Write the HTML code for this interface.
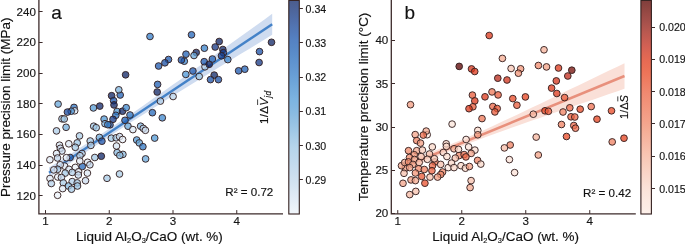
<!DOCTYPE html>
<html><head><meta charset="utf-8"><title>Figure</title>
<style>html,body{margin:0;padding:0;background:#fff}svg text{white-space:pre}</style></head>
<body>
<svg width="685" height="245" viewBox="0 0 685 245" style="display:block">
<rect width="685" height="245" fill="#fff"/>
<defs>
<linearGradient id="gb" gradientUnits="userSpaceOnUse" x1="0" y1="213.6" x2="0" y2="0.4">
<stop offset="0.0000" stop-color="#f1f6fb"/>
<stop offset="0.0312" stop-color="#ebf2f9"/>
<stop offset="0.0625" stop-color="#e4edf7"/>
<stop offset="0.0938" stop-color="#dee9f5"/>
<stop offset="0.1250" stop-color="#d7e5f2"/>
<stop offset="0.1562" stop-color="#d1e1f0"/>
<stop offset="0.1875" stop-color="#cbdeef"/>
<stop offset="0.2188" stop-color="#c6dcee"/>
<stop offset="0.2500" stop-color="#c0d9ed"/>
<stop offset="0.2812" stop-color="#bbd7ec"/>
<stop offset="0.3125" stop-color="#b5d5eb"/>
<stop offset="0.3438" stop-color="#add0e9"/>
<stop offset="0.3750" stop-color="#a4cbe7"/>
<stop offset="0.4062" stop-color="#9bc5e5"/>
<stop offset="0.4375" stop-color="#93c0e3"/>
<stop offset="0.4688" stop-color="#8abbe2"/>
<stop offset="0.5000" stop-color="#83b7e1"/>
<stop offset="0.5312" stop-color="#7db4e1"/>
<stop offset="0.5625" stop-color="#77aede"/>
<stop offset="0.5938" stop-color="#72a9db"/>
<stop offset="0.6250" stop-color="#6ca3d8"/>
<stop offset="0.6562" stop-color="#679dd5"/>
<stop offset="0.6875" stop-color="#6397d1"/>
<stop offset="0.7188" stop-color="#5e92ce"/>
<stop offset="0.7500" stop-color="#5a8cca"/>
<stop offset="0.7812" stop-color="#5787c6"/>
<stop offset="0.8125" stop-color="#5582c3"/>
<stop offset="0.8438" stop-color="#537bbb"/>
<stop offset="0.8750" stop-color="#5275b3"/>
<stop offset="0.9062" stop-color="#506eaa"/>
<stop offset="0.9375" stop-color="#4e68a0"/>
<stop offset="0.9688" stop-color="#4d6296"/>
<stop offset="1.0000" stop-color="#4b5c8c"/>
</linearGradient>
<linearGradient id="gr" gradientUnits="userSpaceOnUse" x1="0" y1="213.6" x2="0" y2="0.4">
<stop offset="0.0000" stop-color="#fdf0ea"/>
<stop offset="0.0312" stop-color="#fcece5"/>
<stop offset="0.0625" stop-color="#fce9e1"/>
<stop offset="0.0938" stop-color="#fbe5dc"/>
<stop offset="0.1250" stop-color="#fbe1d7"/>
<stop offset="0.1562" stop-color="#fadbcf"/>
<stop offset="0.1875" stop-color="#fad5c8"/>
<stop offset="0.2188" stop-color="#f9d0c0"/>
<stop offset="0.2500" stop-color="#f8cab9"/>
<stop offset="0.2812" stop-color="#f8c4b1"/>
<stop offset="0.3125" stop-color="#f7bda9"/>
<stop offset="0.3438" stop-color="#f6b6a1"/>
<stop offset="0.3750" stop-color="#f5b099"/>
<stop offset="0.4062" stop-color="#f4a991"/>
<stop offset="0.4375" stop-color="#f4a28a"/>
<stop offset="0.4688" stop-color="#f39c84"/>
<stop offset="0.5000" stop-color="#f2967d"/>
<stop offset="0.5312" stop-color="#f19077"/>
<stop offset="0.5625" stop-color="#f08a71"/>
<stop offset="0.5938" stop-color="#ef8369"/>
<stop offset="0.6250" stop-color="#ee7c61"/>
<stop offset="0.6562" stop-color="#ed7559"/>
<stop offset="0.6875" stop-color="#ea6f55"/>
<stop offset="0.7188" stop-color="#e66a53"/>
<stop offset="0.7500" stop-color="#dd6653"/>
<stop offset="0.7812" stop-color="#d46154"/>
<stop offset="0.8125" stop-color="#c85d52"/>
<stop offset="0.8438" stop-color="#bc5950"/>
<stop offset="0.8750" stop-color="#af554e"/>
<stop offset="0.9062" stop-color="#a34f4a"/>
<stop offset="0.9375" stop-color="#984a45"/>
<stop offset="0.9688" stop-color="#8c4440"/>
<stop offset="1.0000" stop-color="#803e3c"/>
</linearGradient>
</defs>
<polygon points="49.0,167.6 56.7,162.8 64.4,157.9 72.1,153.0 79.8,148.1 87.5,143.1 95.2,138.1 102.9,133.0 110.6,127.8 118.3,122.7 126.0,117.4 133.7,112.2 141.4,106.9 149.1,101.5 156.8,96.1 164.4,90.7 172.1,85.3 179.8,79.9 187.5,74.4 195.2,68.9 202.9,63.5 210.6,58.0 218.3,52.5 226.0,47.0 233.7,41.5 241.4,35.9 249.1,30.4 256.8,24.9 264.5,19.4 272.2,13.8 272.2,34.8 264.5,39.5 256.8,44.2 249.1,48.9 241.4,53.6 233.7,58.3 226.0,63.0 218.3,67.8 210.6,72.5 202.9,77.2 195.2,82.0 187.5,86.8 179.8,91.5 172.1,96.3 164.4,101.1 156.8,106.0 149.1,110.8 141.4,115.7 133.7,120.6 126.0,125.6 118.3,130.6 110.6,135.7 102.9,140.8 95.2,145.9 87.5,151.1 79.8,156.4 72.1,161.7 64.4,167.0 56.7,172.4 49.0,177.8" fill="#cfdcf0"/>
<line x1="49" y1="172.7" x2="272.2" y2="24.3" stroke="#4482c8" stroke-width="2.5"/>
<g stroke="#33201f" stroke-width="1" stroke-opacity="0.92" fill-opacity="0.75">
<circle cx="58.1" cy="104.1" r="3.35" fill="#67a7d9"/>
<circle cx="74.0" cy="107.4" r="3.35" fill="#2e74c2"/>
<circle cx="74.7" cy="110.8" r="3.35" fill="#dbe8f4"/>
<circle cx="71.2" cy="111.2" r="3.35" fill="#4b94d4"/>
<circle cx="67.4" cy="112.1" r="3.35" fill="#194a9d"/>
<circle cx="62.0" cy="118.8" r="3.35" fill="#9fc7e5"/>
<circle cx="64.2" cy="119.0" r="3.35" fill="#9fc7e5"/>
<circle cx="93.4" cy="107.9" r="3.35" fill="#549cd7"/>
<circle cx="99.8" cy="106.1" r="3.35" fill="#10286a"/>
<circle cx="111.6" cy="95.7" r="3.35" fill="#0f2666"/>
<circle cx="113.6" cy="100.7" r="3.35" fill="#1c58af"/>
<circle cx="114.0" cy="104.9" r="3.35" fill="#0f2666"/>
<circle cx="120.2" cy="95.0" r="3.35" fill="#2061b5"/>
<circle cx="118.8" cy="89.8" r="3.35" fill="#7eb4dd"/>
<circle cx="117.1" cy="111.5" r="3.35" fill="#5099d6"/>
<circle cx="122.5" cy="111.2" r="3.35" fill="#0f2666"/>
<circle cx="115.8" cy="115.3" r="3.35" fill="#2e74c2"/>
<circle cx="113.0" cy="119.3" r="3.35" fill="#143885"/>
<circle cx="104.1" cy="119.1" r="3.35" fill="#5099d6"/>
<circle cx="105.0" cy="123.7" r="3.35" fill="#7db3dd"/>
<circle cx="93.7" cy="126.2" r="3.35" fill="#9dc7e5"/>
<circle cx="96.2" cy="127.7" r="3.35" fill="#9dc7e5"/>
<circle cx="110.0" cy="124.8" r="3.35" fill="#1a50a5"/>
<circle cx="107.8" cy="124.7" r="3.35" fill="#3c85cc"/>
<circle cx="173.1" cy="96.5" r="3.35" fill="#b9d3ea"/>
<circle cx="160.4" cy="101.1" r="3.35" fill="#b1cfe8"/>
<circle cx="152.4" cy="112.7" r="3.35" fill="#2569ba"/>
<circle cx="162.3" cy="117.8" r="3.35" fill="#3e87cd"/>
<circle cx="126.2" cy="107.7" r="3.35" fill="#3f88ce"/>
<circle cx="130.0" cy="115.0" r="3.35" fill="#2e74c2"/>
<circle cx="125.0" cy="120.3" r="3.35" fill="#2061b5"/>
<circle cx="128.0" cy="126.2" r="3.35" fill="#68a7d9"/>
<circle cx="140.6" cy="126.2" r="3.35" fill="#7db3dd"/>
<circle cx="157.2" cy="92.0" r="3.35" fill="#0f2666"/>
<circle cx="66.1" cy="127.3" r="3.35" fill="#73aedb"/>
<circle cx="56.5" cy="130.9" r="3.35" fill="#adcde8"/>
<circle cx="79.5" cy="135.9" r="3.35" fill="#abcde7"/>
<circle cx="99.4" cy="137.4" r="3.35" fill="#7ab2dc"/>
<circle cx="101.9" cy="141.2" r="3.35" fill="#1b53a8"/>
<circle cx="90.2" cy="141.0" r="3.35" fill="#a6cae6"/>
<circle cx="90.9" cy="145.4" r="3.35" fill="#b2cfe8"/>
<circle cx="77.2" cy="142.9" r="3.35" fill="#9ec7e5"/>
<circle cx="75.3" cy="147.3" r="3.35" fill="#a7cbe6"/>
<circle cx="68.8" cy="143.8" r="3.35" fill="#deeaf5"/>
<circle cx="59.5" cy="145.2" r="3.35" fill="#d7e5f3"/>
<circle cx="60.4" cy="148.3" r="3.35" fill="#c9dbee"/>
<circle cx="61.9" cy="151.0" r="3.35" fill="#c9dbee"/>
<circle cx="111.4" cy="138.2" r="3.35" fill="#9dc7e5"/>
<circle cx="116.2" cy="137.8" r="3.35" fill="#a8cbe7"/>
<circle cx="119.6" cy="136.6" r="3.35" fill="#c9dbee"/>
<circle cx="122.6" cy="139.5" r="3.35" fill="#e8f0f8"/>
<circle cx="116.5" cy="146.0" r="3.35" fill="#d7e5f3"/>
<circle cx="117.1" cy="152.6" r="3.35" fill="#88bae0"/>
<circle cx="122.9" cy="154.4" r="3.35" fill="#89bbe0"/>
<circle cx="119.8" cy="155.4" r="3.35" fill="#8bbce0"/>
<circle cx="82.0" cy="153.5" r="3.35" fill="#b3d0e9"/>
<circle cx="56.6" cy="153.5" r="3.35" fill="#dce8f4"/>
<circle cx="57.5" cy="158.0" r="3.35" fill="#c1d6eb"/>
<circle cx="49.9" cy="159.8" r="3.35" fill="#e1ebf6"/>
<circle cx="70.1" cy="157.5" r="3.35" fill="#1f5eb3"/>
<circle cx="66.4" cy="157.7" r="3.35" fill="#e9f1f9"/>
<circle cx="80.0" cy="155.7" r="3.35" fill="#b3d0e9"/>
<circle cx="94.8" cy="157.5" r="3.35" fill="#a6cae6"/>
<circle cx="101.3" cy="156.2" r="3.35" fill="#0f2768"/>
<circle cx="87.6" cy="162.3" r="3.35" fill="#e1ebf6"/>
<circle cx="89.9" cy="164.8" r="3.35" fill="#c1d6eb"/>
<circle cx="82.3" cy="166.5" r="3.35" fill="#2365b8"/>
<circle cx="79.8" cy="161.0" r="3.35" fill="#e1ebf6"/>
<circle cx="75.3" cy="167.4" r="3.35" fill="#ecf3fa"/>
<circle cx="64.6" cy="166.1" r="3.35" fill="#e9f1f9"/>
<circle cx="60.2" cy="164.8" r="3.35" fill="#e1ebf6"/>
<circle cx="57.6" cy="169.3" r="3.35" fill="#aacce7"/>
<circle cx="53.8" cy="169.9" r="3.35" fill="#e1ebf6"/>
<circle cx="69.0" cy="169.3" r="3.35" fill="#dce8f4"/>
<circle cx="72.2" cy="172.4" r="3.35" fill="#b3d0e9"/>
<circle cx="65.2" cy="173.1" r="3.35" fill="#a6cae6"/>
<circle cx="78.5" cy="171.8" r="3.35" fill="#e1ebf6"/>
<circle cx="78.3" cy="175.0" r="3.35" fill="#c2d7ec"/>
<circle cx="87.4" cy="173.1" r="3.35" fill="#dce8f4"/>
<circle cx="50.0" cy="178.5" r="3.35" fill="#e1ebf6"/>
<circle cx="57.8" cy="177.0" r="3.35" fill="#e9f1f9"/>
<circle cx="61.4" cy="177.5" r="3.35" fill="#c1d6eb"/>
<circle cx="107.0" cy="178.3" r="3.35" fill="#a6cae6"/>
<circle cx="119.5" cy="174.0" r="3.35" fill="#abcde7"/>
<circle cx="85.5" cy="180.7" r="3.35" fill="#c9dbee"/>
<circle cx="72.2" cy="181.6" r="3.35" fill="#afcee8"/>
<circle cx="57.6" cy="195.3" r="3.35" fill="#ecf3fa"/>
<circle cx="51.3" cy="183.5" r="3.35" fill="#b7d2e9"/>
<circle cx="63.3" cy="182.9" r="3.35" fill="#a7cbe6"/>
<circle cx="62.7" cy="188.6" r="3.35" fill="#e0ebf5"/>
<circle cx="68.4" cy="186.0" r="3.35" fill="#85b9df"/>
<circle cx="71.5" cy="189.2" r="3.35" fill="#a4c9e6"/>
<circle cx="77.2" cy="182.9" r="3.35" fill="#a6cae6"/>
<circle cx="77.5" cy="186.0" r="3.35" fill="#9dc7e5"/>
<circle cx="132.9" cy="129.6" r="3.35" fill="#dbe8f4"/>
<circle cx="143.3" cy="128.4" r="3.35" fill="#b9d3ea"/>
<circle cx="145.4" cy="130.3" r="3.35" fill="#cddeef"/>
<circle cx="154.7" cy="138.1" r="3.35" fill="#5099d6"/>
<circle cx="136.7" cy="140.0" r="3.35" fill="#5099d6"/>
<circle cx="139.3" cy="142.9" r="3.35" fill="#67a7d9"/>
<circle cx="142.9" cy="146.7" r="3.35" fill="#3077c3"/>
<circle cx="145.6" cy="158.9" r="3.35" fill="#68a7d9"/>
<circle cx="150.0" cy="36.5" r="3.35" fill="#367fc9"/>
<circle cx="191.5" cy="34.8" r="3.35" fill="#2365b8"/>
<circle cx="219.2" cy="41.5" r="3.35" fill="#0f2666"/>
<circle cx="215.2" cy="47.0" r="3.35" fill="#143682"/>
<circle cx="204.4" cy="48.2" r="3.35" fill="#3882ca"/>
<circle cx="222.8" cy="49.5" r="3.35" fill="#10286a"/>
<circle cx="223.4" cy="52.7" r="3.35" fill="#163e8e"/>
<circle cx="221.5" cy="55.8" r="3.35" fill="#153d8c"/>
<circle cx="271.5" cy="42.3" r="3.35" fill="#0f2666"/>
<circle cx="259.5" cy="51.6" r="3.35" fill="#1a50a5"/>
<circle cx="196.2" cy="52.5" r="3.35" fill="#0f2666"/>
<circle cx="194.0" cy="55.5" r="3.35" fill="#69a8d9"/>
<circle cx="186.0" cy="54.2" r="3.35" fill="#2061b5"/>
<circle cx="184.3" cy="61.2" r="3.35" fill="#3c85cc"/>
<circle cx="181.4" cy="60.0" r="3.35" fill="#1a4fa3"/>
<circle cx="168.5" cy="59.5" r="3.35" fill="#1c58af"/>
<circle cx="164.9" cy="62.8" r="3.35" fill="#1a4fa3"/>
<circle cx="158.6" cy="66.0" r="3.35" fill="#1d59af"/>
<circle cx="205.0" cy="66.8" r="3.35" fill="#b9d3ea"/>
<circle cx="204.2" cy="61.7" r="3.35" fill="#1c58af"/>
<circle cx="209.2" cy="64.3" r="3.35" fill="#0f2666"/>
<circle cx="212.4" cy="59.0" r="3.35" fill="#2061b5"/>
<circle cx="227.8" cy="59.6" r="3.35" fill="#3c85cc"/>
<circle cx="259.1" cy="62.5" r="3.35" fill="#143885"/>
<circle cx="238.6" cy="70.8" r="3.35" fill="#1c58af"/>
<circle cx="244.8" cy="69.2" r="3.35" fill="#2061b5"/>
<circle cx="185.8" cy="74.4" r="3.35" fill="#4d97d5"/>
<circle cx="192.9" cy="71.0" r="3.35" fill="#1c58af"/>
<circle cx="199.2" cy="76.5" r="3.35" fill="#9cc6e4"/>
<circle cx="214.2" cy="75.1" r="3.35" fill="#10296b"/>
<circle cx="210.5" cy="79.6" r="3.35" fill="#1a50a5"/>
<circle cx="218.4" cy="79.6" r="3.35" fill="#1b51a6"/>
<circle cx="157.6" cy="84.4" r="3.35" fill="#2060b4"/>
<circle cx="125.6" cy="74.8" r="3.35" fill="#0f2666"/>
</g>
<g stroke="#3c2b2b" stroke-width="1.3" fill="none">
<path d="M38.9 0V213.8H283"/>
</g>
<g stroke="#3c2b2b" stroke-width="1">
<line x1="45.50" y1="213.8" x2="45.50" y2="210.1"/>
<line x1="109.25" y1="213.8" x2="109.25" y2="210.1"/>
<line x1="173.00" y1="213.8" x2="173.00" y2="210.1"/>
<line x1="236.75" y1="213.8" x2="236.75" y2="210.1"/>
<line x1="38.9" y1="195.5" x2="42.6" y2="195.5"/>
<line x1="38.9" y1="165.5" x2="42.6" y2="165.5"/>
<line x1="38.9" y1="134.5" x2="42.6" y2="134.5"/>
<line x1="38.9" y1="103.5" x2="42.6" y2="103.5"/>
<line x1="38.9" y1="73.5" x2="42.6" y2="73.5"/>
<line x1="38.9" y1="42.5" x2="42.6" y2="42.5"/>
<line x1="38.9" y1="11.5" x2="42.6" y2="11.5"/>
</g>
<g font-family="Liberation Sans, Arial, sans-serif" font-size="11.6" fill="#151515" stroke="#151515" stroke-width="0.15">
<text x="45.50" y="225.4" text-anchor="middle">1</text>
<text x="109.25" y="225.4" text-anchor="middle">2</text>
<text x="173.00" y="225.4" text-anchor="middle">3</text>
<text x="236.75" y="225.4" text-anchor="middle">4</text>
<text x="35.9" y="199.85" text-anchor="end">120</text>
<text x="35.9" y="169.13" text-anchor="end">140</text>
<text x="35.9" y="138.41" text-anchor="end">160</text>
<text x="35.9" y="107.69" text-anchor="end">180</text>
<text x="35.9" y="76.97" text-anchor="end">200</text>
<text x="35.9" y="46.25" text-anchor="end">220</text>
<text x="35.9" y="15.53" text-anchor="end">240</text>
</g>
<rect x="288.8" y="0.4" width="10.5" height="213.6" fill="url(#gb)" stroke="#33201f" stroke-width="1.1"/>
<g stroke="#3c2b2b" stroke-width="1">
<line x1="299.3" y1="8.5" x2="302.90000000000003" y2="8.5"/>
<line x1="299.3" y1="42.5" x2="302.90000000000003" y2="42.5"/>
<line x1="299.3" y1="77.5" x2="302.90000000000003" y2="77.5"/>
<line x1="299.3" y1="111.5" x2="302.90000000000003" y2="111.5"/>
<line x1="299.3" y1="145.5" x2="302.90000000000003" y2="145.5"/>
<line x1="299.3" y1="179.5" x2="302.90000000000003" y2="179.5"/>
</g>
<g font-family="Liberation Sans, Arial, sans-serif" font-size="10.6" fill="#151515" stroke="#151515" stroke-width="0.15">
<text x="305.6" y="12.60">0.34</text>
<text x="305.6" y="46.86">0.33</text>
<text x="305.6" y="81.12">0.32</text>
<text x="305.6" y="115.38">0.31</text>
<text x="305.6" y="149.64">0.30</text>
<text x="305.6" y="183.90">0.29</text>
</g>
<polygon points="401.0,162.9 408.7,160.2 416.4,157.4 424.1,154.6 431.8,151.7 439.5,148.7 447.2,145.7 454.9,142.6 462.7,139.4 470.4,136.1 478.1,132.7 485.8,129.2 493.5,125.7 501.2,122.1 508.9,118.5 516.6,114.9 524.3,111.2 532.0,107.6 539.7,103.9 547.4,100.2 555.1,96.5 562.8,92.8 570.6,89.1 578.3,85.4 586.0,81.7 593.7,78.0 601.4,74.3 609.1,70.6 616.8,66.9 624.5,63.2 624.5,88.8 616.8,91.5 609.1,94.1 601.4,96.7 593.7,99.4 586.0,102.0 578.3,104.6 570.6,107.3 562.8,109.9 555.1,112.6 547.4,115.2 539.7,117.9 532.0,120.6 524.3,123.3 516.6,126.0 508.9,128.7 501.2,131.4 493.5,134.2 485.8,137.0 478.1,139.9 470.4,142.8 462.7,145.9 454.9,149.0 447.2,152.2 439.5,155.5 431.8,158.9 424.1,162.4 416.4,165.9 408.7,169.5 401.0,173.1" fill="#fae0d8"/>
<line x1="401" y1="168" x2="624.5" y2="76" stroke="#e8907c" stroke-width="2.5"/>
<g stroke="#33201f" stroke-width="1" stroke-opacity="0.92" fill-opacity="0.75">
<circle cx="489.2" cy="35.5" r="3.35" fill="#dc371a"/>
<circle cx="544.0" cy="49.8" r="3.35" fill="#f5b199"/>
<circle cx="502.4" cy="58.4" r="3.35" fill="#f5ac92"/>
<circle cx="459.2" cy="66.4" r="3.35" fill="#590000"/>
<circle cx="471.5" cy="68.9" r="3.35" fill="#d3331a"/>
<circle cx="474.7" cy="71.5" r="3.35" fill="#dc371a"/>
<circle cx="511.1" cy="68.5" r="3.35" fill="#f8c7b5"/>
<circle cx="520.6" cy="68.8" r="3.35" fill="#f29578"/>
<circle cx="518.4" cy="73.2" r="3.35" fill="#f29477"/>
<circle cx="538.4" cy="65.5" r="3.35" fill="#f18a6b"/>
<circle cx="546.5" cy="66.9" r="3.35" fill="#f3a186"/>
<circle cx="558.5" cy="68.0" r="3.35" fill="#dc371a"/>
<circle cx="571.8" cy="70.2" r="3.35" fill="#760e07"/>
<circle cx="567.8" cy="76.0" r="3.35" fill="#c22b1b"/>
<circle cx="497.8" cy="78.2" r="3.35" fill="#b82819"/>
<circle cx="507.0" cy="80.0" r="3.35" fill="#d2321a"/>
<circle cx="556.3" cy="80.9" r="3.35" fill="#d3331a"/>
<circle cx="551.6" cy="88.1" r="3.35" fill="#dc371a"/>
<circle cx="556.8" cy="93.5" r="3.35" fill="#dc371a"/>
<circle cx="564.6" cy="97.6" r="3.35" fill="#ea5b39"/>
<circle cx="525.4" cy="96.9" r="3.35" fill="#e6421d"/>
<circle cx="512.8" cy="98.6" r="3.35" fill="#e84824"/>
<circle cx="516.9" cy="105.2" r="3.35" fill="#ea5b39"/>
<circle cx="492.0" cy="91.9" r="3.35" fill="#ee7756"/>
<circle cx="498.1" cy="94.9" r="3.35" fill="#ea5b39"/>
<circle cx="485.0" cy="96.8" r="3.35" fill="#dc371a"/>
<circle cx="472.4" cy="95.1" r="3.35" fill="#ea5b39"/>
<circle cx="474.8" cy="100.9" r="3.35" fill="#dc371a"/>
<circle cx="472.9" cy="106.8" r="3.35" fill="#ea5b39"/>
<circle cx="469.0" cy="108.7" r="3.35" fill="#db371a"/>
<circle cx="492.8" cy="106.5" r="3.35" fill="#ec6645"/>
<circle cx="497.2" cy="108.5" r="3.35" fill="#e9522f"/>
<circle cx="494.9" cy="111.9" r="3.35" fill="#ea5b39"/>
<circle cx="410.5" cy="104.7" r="3.35" fill="#f39c80"/>
<circle cx="482.0" cy="118.6" r="3.35" fill="#ee7756"/>
<circle cx="533.3" cy="114.2" r="3.35" fill="#f7bca7"/>
<circle cx="545.0" cy="110.8" r="3.35" fill="#e6421d"/>
<circle cx="548.4" cy="111.3" r="3.35" fill="#eb5e3d"/>
<circle cx="563.0" cy="112.0" r="3.35" fill="#ef8060"/>
<circle cx="569.8" cy="107.8" r="3.35" fill="#ec6645"/>
<circle cx="580.2" cy="109.2" r="3.35" fill="#e84824"/>
<circle cx="591.2" cy="106.6" r="3.35" fill="#ed7050"/>
<circle cx="611.5" cy="110.8" r="3.35" fill="#e84824"/>
<circle cx="597.0" cy="119.2" r="3.35" fill="#e6421d"/>
<circle cx="571.0" cy="116.8" r="3.35" fill="#ea5b39"/>
<circle cx="574.8" cy="117.0" r="3.35" fill="#ec6645"/>
<circle cx="561.5" cy="124.5" r="3.35" fill="#ef8060"/>
<circle cx="573.8" cy="125.5" r="3.35" fill="#ec6645"/>
<circle cx="575.5" cy="128.2" r="3.35" fill="#ed7050"/>
<circle cx="566.5" cy="136.5" r="3.35" fill="#e84824"/>
<circle cx="536.2" cy="137.1" r="3.35" fill="#f6b59d"/>
<circle cx="510.2" cy="145.0" r="3.35" fill="#ef8060"/>
<circle cx="504.4" cy="147.9" r="3.35" fill="#f7bca7"/>
<circle cx="612.2" cy="141.9" r="3.35" fill="#ef8060"/>
<circle cx="624.0" cy="138.2" r="3.35" fill="#e6421d"/>
<circle cx="452.1" cy="124.1" r="3.35" fill="#fbe5db"/>
<circle cx="538.3" cy="155.0" r="3.35" fill="#f3a186"/>
<circle cx="509.4" cy="159.6" r="3.35" fill="#fbe1d7"/>
<circle cx="514.6" cy="172.6" r="3.35" fill="#fbe1d7"/>
<circle cx="427.2" cy="134.7" r="3.35" fill="#fce5dc"/>
<circle cx="415.2" cy="134.6" r="3.35" fill="#f4a489"/>
<circle cx="426.2" cy="131.1" r="3.35" fill="#f4a98f"/>
<circle cx="423.3" cy="135.1" r="3.35" fill="#ed6b4a"/>
<circle cx="416.7" cy="140.6" r="3.35" fill="#ef8161"/>
<circle cx="420.5" cy="143.1" r="3.35" fill="#f39e82"/>
<circle cx="432.3" cy="146.9" r="3.35" fill="#fad8ca"/>
<circle cx="408.5" cy="150.7" r="3.35" fill="#f18a6a"/>
<circle cx="416.7" cy="150.7" r="3.35" fill="#f4a98f"/>
<circle cx="422.4" cy="150.1" r="3.35" fill="#f8cbba"/>
<circle cx="414.2" cy="154.7" r="3.35" fill="#f29476"/>
<circle cx="429.5" cy="154.0" r="3.35" fill="#f7c1ad"/>
<circle cx="421.1" cy="156.6" r="3.35" fill="#f7c1ad"/>
<circle cx="409.5" cy="157.5" r="3.35" fill="#f18a6a"/>
<circle cx="446.2" cy="143.8" r="3.35" fill="#fad8ca"/>
<circle cx="446.4" cy="146.4" r="3.35" fill="#fad8ca"/>
<circle cx="443.3" cy="152.5" r="3.35" fill="#fadacd"/>
<circle cx="446.9" cy="156.5" r="3.35" fill="#fbdfd3"/>
<circle cx="454.0" cy="148.8" r="3.35" fill="#f4a98f"/>
<circle cx="458.5" cy="149.4" r="3.35" fill="#fad8ca"/>
<circle cx="466.1" cy="139.5" r="3.35" fill="#fce5dc"/>
<circle cx="468.6" cy="146.9" r="3.35" fill="#fbe2d8"/>
<circle cx="474.9" cy="150.1" r="3.35" fill="#faded2"/>
<circle cx="471.2" cy="153.4" r="3.35" fill="#f4a489"/>
<circle cx="459.1" cy="155.6" r="3.35" fill="#f18a6a"/>
<circle cx="464.1" cy="154.6" r="3.35" fill="#ed7251"/>
<circle cx="465.9" cy="156.9" r="3.35" fill="#ec6847"/>
<circle cx="477.8" cy="130.4" r="3.35" fill="#fad8ca"/>
<circle cx="477.8" cy="134.8" r="3.35" fill="#f39e82"/>
<circle cx="427.4" cy="159.3" r="3.35" fill="#fad8ca"/>
<circle cx="435.0" cy="161.9" r="3.35" fill="#ed7251"/>
<circle cx="434.4" cy="158.7" r="3.35" fill="#f8cbba"/>
<circle cx="455.3" cy="158.1" r="3.35" fill="#f7c1ad"/>
<circle cx="477.6" cy="160.4" r="3.35" fill="#ef8161"/>
<circle cx="480.8" cy="164.1" r="3.35" fill="#fad8ca"/>
<circle cx="405.5" cy="168.2" r="3.35" fill="#f4a98f"/>
<circle cx="414.5" cy="159.5" r="3.35" fill="#f4a98f"/>
<circle cx="401.5" cy="165.7" r="3.35" fill="#f4a98f"/>
<circle cx="404.7" cy="162.5" r="3.35" fill="#f4a98f"/>
<circle cx="408.5" cy="161.9" r="3.35" fill="#f18a6a"/>
<circle cx="412.9" cy="164.4" r="3.35" fill="#f4a98f"/>
<circle cx="409.7" cy="167.6" r="3.35" fill="#f4a489"/>
<circle cx="419.2" cy="162.5" r="3.35" fill="#f7c1ad"/>
<circle cx="432.5" cy="165.7" r="3.35" fill="#ec6847"/>
<circle cx="440.7" cy="164.4" r="3.35" fill="#f7c1ad"/>
<circle cx="448.3" cy="167.6" r="3.35" fill="#fce8df"/>
<circle cx="451.5" cy="163.1" r="3.35" fill="#fad8ca"/>
<circle cx="454.0" cy="167.6" r="3.35" fill="#fad8ca"/>
<circle cx="461.0" cy="165.7" r="3.35" fill="#fad8ca"/>
<circle cx="465.4" cy="168.2" r="3.35" fill="#fad8ca"/>
<circle cx="469.4" cy="166.5" r="3.35" fill="#f39e82"/>
<circle cx="404.0" cy="173.3" r="3.35" fill="#f7c1ad"/>
<circle cx="418.6" cy="168.8" r="3.35" fill="#f18a6a"/>
<circle cx="424.3" cy="169.5" r="3.35" fill="#ef8161"/>
<circle cx="431.9" cy="170.7" r="3.35" fill="#eb603f"/>
<circle cx="415.4" cy="173.0" r="3.35" fill="#f29476"/>
<circle cx="442.6" cy="172.0" r="3.35" fill="#f18a6a"/>
<circle cx="440.7" cy="174.5" r="3.35" fill="#f18a6a"/>
<circle cx="437.6" cy="177.1" r="3.35" fill="#f39e82"/>
<circle cx="421.7" cy="176.4" r="3.35" fill="#ea5835"/>
<circle cx="430.0" cy="177.1" r="3.35" fill="#f7c1ad"/>
<circle cx="411.0" cy="179.9" r="3.35" fill="#f39e82"/>
<circle cx="415.4" cy="180.6" r="3.35" fill="#f4a98f"/>
<circle cx="403.0" cy="183.3" r="3.35" fill="#f4a489"/>
<circle cx="424.9" cy="183.2" r="3.35" fill="#e9512e"/>
<circle cx="471.1" cy="180.6" r="3.35" fill="#f7c1ad"/>
<circle cx="415.8" cy="191.4" r="3.35" fill="#f7c1ad"/>
<circle cx="409.7" cy="194.6" r="3.35" fill="#f6b8a2"/>
<circle cx="470.1" cy="187.6" r="3.35" fill="#f4a98f"/>
</g>
<g stroke="#3c2b2b" stroke-width="1.3" fill="none">
<path d="M391.3 0V213.8H635.8"/>
</g>
<g stroke="#3c2b2b" stroke-width="1">
<line x1="397.75" y1="213.8" x2="397.75" y2="210.1"/>
<line x1="461.75" y1="213.8" x2="461.75" y2="210.1"/>
<line x1="525.75" y1="213.8" x2="525.75" y2="210.1"/>
<line x1="589.75" y1="213.8" x2="589.75" y2="210.1"/>
<line x1="391.3" y1="213.5" x2="395.0" y2="213.5"/>
<line x1="391.3" y1="170.5" x2="395.0" y2="170.5"/>
<line x1="391.3" y1="127.5" x2="395.0" y2="127.5"/>
<line x1="391.3" y1="83.5" x2="395.0" y2="83.5"/>
<line x1="391.3" y1="40.5" x2="395.0" y2="40.5"/>
</g>
<g font-family="Liberation Sans, Arial, sans-serif" font-size="11.6" fill="#151515" stroke="#151515" stroke-width="0.15">
<text x="397.75" y="225.4" text-anchor="middle">1</text>
<text x="461.75" y="225.4" text-anchor="middle">2</text>
<text x="525.75" y="225.4" text-anchor="middle">3</text>
<text x="589.75" y="225.4" text-anchor="middle">4</text>
<text x="388.3" y="217.45" text-anchor="end">20</text>
<text x="388.3" y="174.20" text-anchor="end">25</text>
<text x="388.3" y="130.95" text-anchor="end">30</text>
<text x="388.3" y="87.70" text-anchor="end">35</text>
<text x="388.3" y="44.45" text-anchor="end">40</text>
</g>
<rect x="640.9" y="0.4" width="10.5" height="213.6" fill="url(#gr)" stroke="#33201f" stroke-width="1.1"/>
<g stroke="#3c2b2b" stroke-width="1">
<line x1="651.4" y1="27.5" x2="655.0" y2="27.5"/>
<line x1="651.4" y1="59.5" x2="655.0" y2="59.5"/>
<line x1="651.4" y1="91.5" x2="655.0" y2="91.5"/>
<line x1="651.4" y1="123.5" x2="655.0" y2="123.5"/>
<line x1="651.4" y1="156.5" x2="655.0" y2="156.5"/>
<line x1="651.4" y1="188.5" x2="655.0" y2="188.5"/>
</g>
<g font-family="Liberation Sans, Arial, sans-serif" font-size="10.6" fill="#151515" stroke="#151515" stroke-width="0.15">
<text x="659.2" y="31.20">0.020</text>
<text x="659.2" y="63.46">0.019</text>
<text x="659.2" y="95.72">0.018</text>
<text x="659.2" y="127.98">0.017</text>
<text x="659.2" y="160.24">0.016</text>
<text x="659.2" y="192.50">0.015</text>
</g>
<g font-family="Liberation Sans, Arial, sans-serif" fill="#111" stroke="#111" stroke-width="0.15">
<text x="51.3" y="19" font-size="19">a</text>
<text x="404.6" y="19" font-size="19">b</text>
<text x="225.3" y="195.9" font-size="11.6">R² = 0.72</text>
<text x="583.1" y="196.5" font-size="11.6">R² = 0.42</text>
<text x="76.1" y="240.7" font-size="13.48">Liquid Al<tspan font-size="7.4" dy="2.1">2</tspan><tspan dy="-2.1">O</tspan><tspan font-size="7.4" dy="2.1">3</tspan><tspan dy="-2.1">/CaO (wt. %)</tspan></text>
<text x="432.3" y="240.7" font-size="13.48">Liquid Al<tspan font-size="7.4" dy="2.1">2</tspan><tspan dy="-2.1">O</tspan><tspan font-size="7.4" dy="2.1">3</tspan><tspan dy="-2.1">/CaO (wt. %)</tspan></text>
<text transform="translate(10.2,197) rotate(-90)" font-size="13.46">Pressure precision limit (MPa)</text>
<text transform="translate(368.1,201.2) rotate(-90)" font-size="13.46">Temperature precision limit (°C)</text>
<text transform="translate(267.8,124) rotate(-90)" font-size="11.7" letter-spacing="0.25">1/Δ<tspan font-style="italic">V</tspan><tspan font-style="italic" font-size="8.3" dy="3.1">jd</tspan></text>
<line x1="257.6" y1="99.4" x2="257.6" y2="105" stroke="#111" stroke-width="0.8"/>
<text transform="translate(627.8,119.1) rotate(-90)" font-size="11.1">1/Δ<tspan font-style="italic">S</tspan></text>
<line x1="617.8" y1="96.4" x2="617.8" y2="101.4" stroke="#111" stroke-width="0.8"/>
</g>
</svg>
</body></html>
